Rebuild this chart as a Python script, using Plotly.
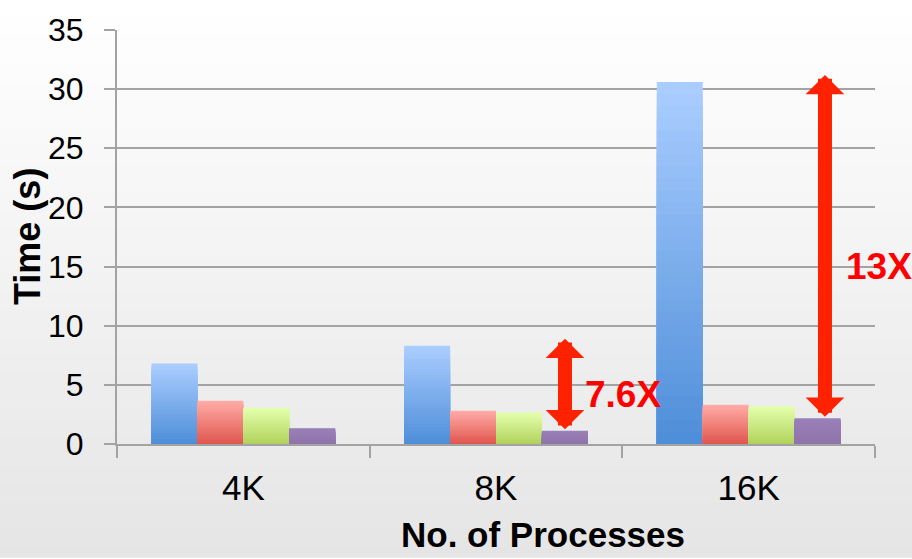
import plotly.graph_objects as go

# ---------------- data ----------------
categories = ["4K", "8K", "16K"]
series_names = ["Series 1", "Series 2", "Series 3", "Series 4"]
s1 = [6.8, 8.3, 30.6]
s2 = [3.65, 2.82, 3.32]
s3 = [3.06, 2.66, 3.20]
s4 = [1.33, 1.12, 2.18]
y_ticks = [0, 5, 10, 15, 20, 25, 30, 35]
speedup_labels = ["7.6X", "13X"]
speedup_cats = [1, 2]          # index of category each speed-up arrow refers to

# ---------------- style ----------------
FONT = "Liberation Sans, Arial, Helvetica, sans-serif"
GRAY = "#a3a3a3"
grad = [("#aacdff", "#4f8fd9"),   # blue
        ("#ffaba6", "#e0584f"),   # red
        ("#e4ffab", "#b1d35e"),   # green
        ("#9a80b8", "#8f74ab")]   # purple
W, H = 912, 559
ML, MR, MT, MB = 117, 37, 22, 115
PW, PH = W - ML - MR, H - MT - MB


def hex2rgb(h):
    h = h.lstrip("#")
    return [int(h[i:i + 2], 16) for i in (0, 2, 4)]


def lerp(c1, c2, t):
    a, b = hex2rgb(c1), hex2rgb(c2)
    return "rgb(%d,%d,%d)" % tuple(round(a[i] + (b[i] - a[i]) * t) for i in range(3))


fig = go.Figure()

series = [s1, s2, s3, s4]
N = 30
for name, vals, (ctop, cbot) in zip(series_names, series, grad):
    for k in range(N):
        frac = (N - k) / N
        fig.add_trace(go.Bar(
            x=categories, y=[v * frac for v in vals], name=name,
            offsetgroup=name, showlegend=False,
            marker=dict(color=lerp(ctop, cbot, k / (N - 1)), line=dict(width=0)),
            hoverinfo="skip" if k else "x+y",
        ))

# background gradient bands (figure-wide)
shapes = []
NB = 60
for i in range(NB):
    t0, t1 = i / NB, (i + 1) / NB
    y_top = 1 + MT / PH - t0 * (H / PH)
    y_bot = 1 + MT / PH - t1 * (H / PH)
    shapes.append(dict(type="rect", xref="paper", yref="paper",
                       x0=-ML / PW, x1=1 + MR / PW, y0=y_bot - 0.002, y1=y_top,
                       fillcolor=lerp("#ffffff", "#e5e5e5", (t0 + t1) / 2),
                       line=dict(width=0), layer="below"))

annotations = []
# speed-up arrows: from the purple bar up to the blue bar
arrow_off = [0.273, 0.302]
text_off = [0.344, 0.377]
text_y = [4.2, 15.0]
for j, ci in enumerate(speedup_cats):
    xa = ci + arrow_off[j]
    annotations.append(dict(
        x=xa, y=s1[ci] + 0.6, ax=xa, ay=s4[ci], xref="x", yref="y", axref="x", ayref="y",
        text="", showarrow=True, arrowside="end+start", arrowhead=1, startarrowhead=1,
        arrowsize=0.46, startarrowsize=0.46, arrowwidth=14, arrowcolor="#ff2200",
        standoff=0, startstandoff=0))
    annotations.append(dict(
        x=ci + text_off[j], y=text_y[j], xref="x", yref="y", xanchor="left", yanchor="middle",
        text="<b>%s</b>" % speedup_labels[j], showarrow=False,
        font=dict(family=FONT, size=37, color="#ff0000")))

annotations.append(dict(
    x=(27 - ML) / PW, y=(MT + PH - 233) / PH, xref="paper", yref="paper", textangle=-90,
    text="<b>Time (s)</b>", showarrow=False, xanchor="center", yanchor="middle",
    font=dict(family=FONT, size=36, color="#000000")))
annotations.append(dict(
    x=(543 - ML) / PW, y=-(536 - (MT + PH)) / PH, xref="paper", yref="paper",
    text="<b>No. of Processes</b>", showarrow=False, xanchor="center", yanchor="middle",
    borderpad=0, font=dict(family=FONT, size=35, color="#000000")))

fig.update_layout(
    width=W, height=H, autosize=False,
    margin=dict(l=ML, r=MR, t=MT, b=MB, pad=0),
    paper_bgcolor="#ffffff", plot_bgcolor="rgba(0,0,0,0)",
    barmode="group", bargap=0.273, bargroupgap=0,
    showlegend=False, shapes=shapes, annotations=annotations,
    font=dict(family=FONT, color="#000000"),
    xaxis=dict(type="category", categoryorder="array", categoryarray=categories,
               range=[-0.5, len(categories) - 0.5], autorange=False,
               tickson="boundaries", ticks="outside", ticklen=12, tickwidth=2, tickcolor=GRAY,
               showline=True, linecolor=GRAY, linewidth=2, showgrid=False, zeroline=False,
               tickfont=dict(family=FONT, size=35, color="#000000"), ticklabelstandoff=12),
    yaxis=dict(range=[0, 35], autorange=False, tickvals=y_ticks, ticks="outside", ticklen=11,
               tickwidth=2, tickcolor=GRAY, showline=True, linecolor=GRAY, linewidth=2,
               showgrid=True, gridcolor=GRAY, gridwidth=2, zeroline=False,
               tickfont=dict(family=FONT, size=32, color="#000000"), ticklabelstandoff=14),
)

fig.write_html("out.html")
